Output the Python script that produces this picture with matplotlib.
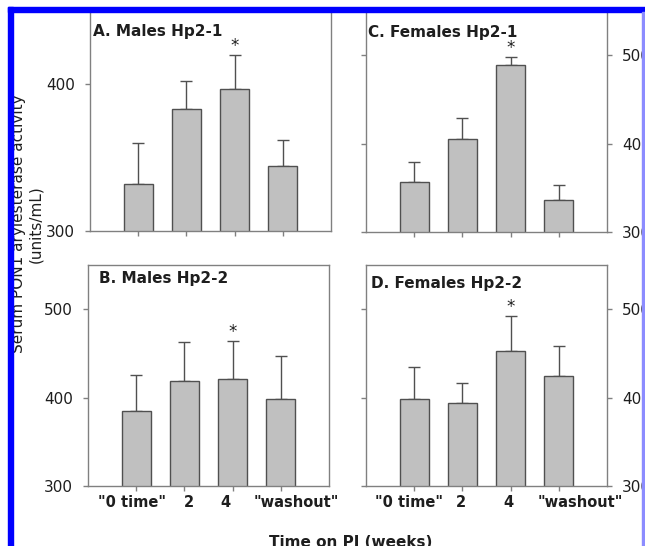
import numpy as np
import matplotlib
matplotlib.use("Agg")
import matplotlib.pyplot as plt
from matplotlib.transforms import ScaledTranslation
from matplotlib.patches import Rectangle

W, H = 645, 546
DPI = 100

# data (bar tops and upper error)
categories = ['"0 time"', '2', '4', '"washout"']
males_hp21 = [332, 383, 397, 344]
males_hp21_err = [28, 19, 23, 18]
females_hp21 = [356, 405, 489, 336]
females_hp21_err = [23, 24, 9, 17]
males_hp22 = [385, 419, 421, 398]
males_hp22_err = [41, 44, 43, 49]
females_hp22 = [398, 394, 453, 424]
females_hp22_err = [37, 23, 39, 34]
significant = 2  # index of the bar marked with *

GRAY = "#808080"
BAR = "#c0c0c0"
EDGE = "#505050"
TXT = "#1e1e1e"


def px_rect(l, t, r, b):
    return [l / W, 1 - b / H, (r - l) / W, (b - t) / H]


fig = plt.figure(figsize=(W / DPI, H / DPI), dpi=DPI)


def panel(rect, vals, errs, ylim, yticks, title, title_xy, side, xlabels, lab_dx):
    ax = fig.add_axes(px_rect(*rect))
    x = np.arange(1, len(vals) + 1)
    ax.bar(x, vals, width=0.6, color=BAR, edgecolor=EDGE, linewidth=1.0, zorder=2)
    ax.errorbar(x, vals, yerr=[np.zeros(len(errs)), errs], fmt="none",
                ecolor=EDGE, elinewidth=1.0, capsize=4, capthick=1.0, zorder=1)
    top = vals[significant] + errs[significant]
    ax.text(x[significant], top, "*", ha="center", va="bottom",
            fontsize=12, color=TXT)
    ax.set_xlim(0, 5)
    ax.set_ylim(*ylim)
    ax.set_yticks(yticks)
    ax.set_xticks(x)
    for sp in ax.spines.values():
        sp.set_color(GRAY)
        sp.set_linewidth(1.0)
    ax.tick_params(direction="out", length=3.5, width=1.0, color=GRAY,
                   labelsize=11, labelcolor=TXT, pad=7.5)
    if side == "right":
        ax.tick_params(axis="y", left=True, right=True,
                       labelleft=False, labelright=True)
    if xlabels:
        ax.set_xticklabels(categories, fontweight="bold", fontsize=10.5)
        ax.tick_params(axis="x", pad=3)
        for lab, dx in zip(ax.get_xticklabels(), lab_dx):
            lab.set_transform(lab.get_transform() +
                              ScaledTranslation(dx / DPI, 0, fig.dpi_scale_trans))
    else:
        ax.set_xticklabels([])
    fig.text(title_xy[0] / W, 1 - title_xy[1] / H, title, fontsize=11,
             fontweight="bold", color=TXT, ha="left", va="baseline")
    return ax


panel((90, 11, 331, 231), males_hp21, males_hp21_err, (300, 450), [300, 400],
      "A. Males Hp2-1", (93, 36), "left", False, None)
panel((366, 11, 607, 232), females_hp21, females_hp21_err, (300, 550),
      [300, 400, 500], "C. Females Hp2-1", (368, 37), "right", False, None)
panel((88, 265, 329, 486), males_hp22, males_hp22_err, (300, 550),
      [300, 400, 500], "B. Males Hp2-2", (99, 283), "left", True,
      [-4, 5, -7, 16])
panel((366, 265, 607, 486), females_hp22, females_hp22_err, (300, 550),
      [300, 400, 500], "D. Females Hp2-2", (371, 288), "right", True,
      [-5, -1, -2, 22])

fig.text(27 / W, 1 - 224 / H, "Serum PON1 arylesterase activity\n(units/mL)",
         rotation=90, ha="center", va="center", multialignment="center",
         fontsize=11, color=TXT, linespacing=1.15)
fig.text(351 / W, 1 - 543 / H, "Time on PJ (weeks)", ha="center", va="center",
         fontsize=11, fontweight="bold", color=TXT)

# blue frame of the scanned page
fig.patches.append(Rectangle((8 / W, 0), 5 / W, 1 - 7 / H, transform=fig.transFigure,
                             color="#0000ff", zorder=10))
fig.patches.append(Rectangle((8 / W, 1 - 12 / H), 1, 5 / H, transform=fig.transFigure,
                             color="#0000ff", zorder=10))
fig.patches.append(Rectangle((642 / W, 0), 3 / W, 1 - 12 / H, transform=fig.transFigure,
                             color="#8c8cff", zorder=10))

fig.savefig("out.png", dpi=DPI)
